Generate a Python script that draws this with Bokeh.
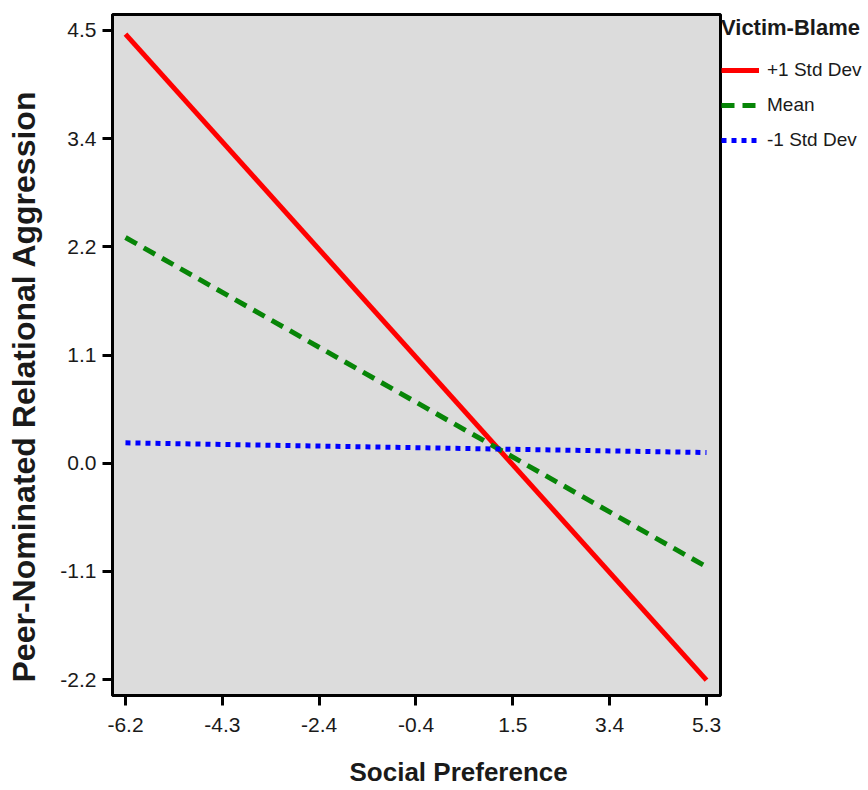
from bokeh.plotting import figure
from bokeh.models import Range1d, FixedTicker, Legend, LegendItem, Title
from bokeh.embed import file_html
from bokeh.resources import INLINE

# ---- data ----
social_pref = [-6.2, 5.3]
plus1_sd = [4.43, -2.24]
mean_vb = [2.33, -1.07]
minus1_sd = [0.21, 0.11]

x_tick_values = [-6.2, -4.283, -2.367, -0.45, 1.467, 3.383, 5.3]
x_tick_labels = ["-6.2", "-4.3", "-2.4", "-0.4", "1.5", "3.4", "5.3"]
y_tick_values = [-2.233, -1.117, 0.0, 1.117, 2.233, 3.35, 4.467]
y_tick_labels = ["-2.2", "-1.1", "0.0", "1.1", "2.2", "3.4", "4.5"]

series_names = ["+1 Std Dev", "Mean", "-1 Std Dev"]
x_title = "Social Preference"
y_title = "Peer-Nominated Relational Aggression"
legend_title = "Victim-Blame"

p = figure(frame_width=608, frame_height=681, output_backend="svg", toolbar_location=None,
           x_range=Range1d(-6.457, 5.577), y_range=Range1d(-2.398, 4.632),
           min_border_left=112, min_border_top=14, min_border_right=146,
           min_border_bottom=92)

p.background_fill_color = "#dcdcdc"
p.border_fill_color = "white"
p.outline_line_color = "black"
p.outline_line_width = 3
p.grid.visible = False

r1 = p.line(social_pref, plus1_sd, line_color="#ff0000", line_width=5)
r2 = p.line(social_pref, mean_vb, line_color="#078507", line_width=5, line_dash="13 8")
r3 = p.line(social_pref, minus1_sd, line_color="#0000ff", line_width=5, line_dash="5 5")

for ax in (p.xaxis[0], p.yaxis[0]):
    ax.axis_line_width = 3
    ax.major_tick_line_width = 3
    ax.major_tick_out = 10
    ax.major_tick_in = 0
    ax.minor_tick_line_color = None
    ax.major_label_text_font = "Liberation Sans"
    ax.major_label_text_font_size = "21px"
    ax.major_label_text_color = "#1a1a1a"
    ax.axis_label = " "
    ax.axis_label_text_font_size = "10px"

p.xaxis.ticker = FixedTicker(ticks=x_tick_values)
p.xaxis.major_label_overrides = {v: l for v, l in zip(x_tick_values, x_tick_labels)}
p.yaxis.ticker = FixedTicker(ticks=y_tick_values)
p.yaxis.major_label_overrides = {v: l for v, l in zip(y_tick_values, y_tick_labels)}
p.xaxis.major_label_standoff = 12
p.yaxis.major_label_standoff = 6
p.xaxis.axis_label_standoff = 5
p.yaxis.axis_label_standoff = 0

xt = Title(text=x_title, align="left", offset=237, text_font="Liberation Sans",
           text_font_style="bold", text_font_size="26px", text_color="#1a1a1a",
           standoff=2)
p.add_layout(xt, "below")
yt = Title(text=y_title, align="left", offset=13, text_font="Liberation Sans",
           text_font_style="bold", text_font_size="32px", text_color="#1a1a1a",
           standoff=4)
p.add_layout(yt, "left")

legend = Legend(items=[LegendItem(label=series_names[0], renderers=[r1]),
                       LegendItem(label=series_names[1], renderers=[r2]),
                       LegendItem(label=series_names[2], renderers=[r3])],
                location="top_left", title=legend_title)
legend.title_text_font = "Liberation Sans"
legend.title_text_font_style = "bold"
legend.title_text_font_size = "22px"
legend.title_text_color = "#1a1a1a"
legend.title_standoff = 18
legend.label_text_font = "Liberation Sans"
legend.label_text_font_size = "19px"
legend.label_text_color = "#1a1a1a"
legend.glyph_width = 38
legend.glyph_height = 20
legend.label_height = 20
legend.label_standoff = 8
legend.spacing = 13
legend.padding = 4
legend.margin = 1
legend.border_line_color = None
legend.background_fill_color = None
p.add_layout(legend, "right")

open("out.html", "w").write(file_html(p, INLINE))
